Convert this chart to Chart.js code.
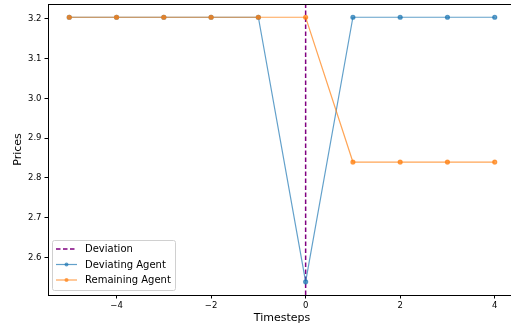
<!DOCTYPE html>
<html>
<head>
<meta charset="utf-8">
<script src="https://cdn.jsdelivr.net/npm/chart.js@4.4.0/dist/chart.umd.min.js"></script>
<style>
  html, body { margin: 0; padding: 0; background: #fff; overflow: hidden; }
  #wrap { width: 520px; height: 330px; }
</style>
</head>
<body>
<div id="wrap"><canvas id="chart"></canvas></div>
<script>
// values
const timesteps = [-5, -4, -3, -2, -1, 0, 1, 2, 3, 4];
const deviatingPrices = [3.204, 3.204, 3.204, 3.204, 3.204, 2.539, 3.204, 3.204, 3.204, 3.204];
const remainingPrices = [3.204, 3.204, 3.204, 3.204, 3.204, 3.204, 2.84, 2.84, 2.84, 2.84];
const deviationStep = 0;
const xTicks = [-4, -2, 0, 2, 4];
const yTicks = [2.6, 2.7, 2.8, 2.9, 3.0, 3.1, 3.2];
const xRange = [-5.45, 4.45];
const yRange = [2.5058, 3.2373];

const font = "'DejaVu Sans', sans-serif";
const blue = "rgba(31,119,180,0.7)";
const orange = "rgba(255,127,14,0.7)";
const purple = "#800080";

const toPoints = (ys) => timesteps.map((x, i) => ({ x, y: ys[i] }));

// frame around the axes + legend inside lower left
const framePlugin = {
  id: "frame",
  afterDraw(chart) {
    const { ctx, chartArea: a } = chart;
    ctx.save();
    ctx.strokeStyle = "#000";
    ctx.lineWidth = 1;
    ctx.strokeRect(a.left + 0.5, a.top + 0.5, a.right - a.left, a.bottom - a.top);

    // legend box
    const lx = 52, ly = 240, lw = 123, lh = 50;
    ctx.fillStyle = "rgba(255,255,255,0.8)";
    ctx.strokeStyle = "#d0d0d0";
    ctx.lineWidth = 1;
    ctx.beginPath();
    ctx.roundRect(lx + 0.5, ly + 0.5, lw, lh, 2);
    ctx.fill();
    ctx.stroke();

    ctx.font = "10px " + font;
    ctx.textBaseline = "middle";
    chart.data.datasets.forEach((ds, i) => {
      const y = ly + 9 + i * 15.5;
      ctx.strokeStyle = ds.borderColor;
      ctx.lineWidth = ds.borderWidth;
      ctx.setLineDash(ds.borderDash || []);
      ctx.beginPath();
      ctx.moveTo(lx + 4, y);
      ctx.lineTo(lx + 25, y);
      ctx.stroke();
      ctx.setLineDash([]);
      if (ds.pointRadius) {
        ctx.fillStyle = ds.borderColor;
        ctx.beginPath();
        ctx.arc(lx + 14.5, y, ds.pointRadius, 0, Math.PI * 2);
        ctx.fill();
      }
      ctx.fillStyle = "#000";
      ctx.fillText(ds.label, lx + 33, y + 0.5);
    });
    ctx.restore();
  }
};

new Chart(document.getElementById("chart"), {
  type: "line",
  data: {
    datasets: [
      {
        label: "Deviation",
        data: [{ x: deviationStep, y: yRange[0] }, { x: deviationStep, y: yRange[1] }],
        borderColor: purple,
        borderWidth: 1.5,
        borderDash: [4.5, 2.5],
        pointRadius: 0,
        order: 3
      },
      {
        label: "Deviating Agent",
        data: toPoints(deviatingPrices),
        borderColor: blue,
        backgroundColor: blue,
        borderWidth: 1.2,
        pointRadius: 2,
        pointHoverRadius: 2,
        order: 2
      },
      {
        label: "Remaining Agent",
        data: toPoints(remainingPrices),
        borderColor: orange,
        backgroundColor: orange,
        borderWidth: 1.2,
        pointRadius: 2,
        pointHoverRadius: 2,
        order: 1
      }
    ]
  },
  options: {
    responsive: true,
    maintainAspectRatio: false,
    animation: false,
    layout: { padding: { top: 4, right: 4, left: 0, bottom: 0 } },
    plugins: { legend: { display: false }, tooltip: { enabled: false } },
    scales: {
      x: {
        type: "linear",
        min: xRange[0],
        max: xRange[1],
        afterBuildTicks: (s) => { s.ticks = xTicks.map((v) => ({ value: v })); },
        afterFit: (s) => { s.height = 35; s.paddingLeft = 0; s.paddingRight = 0; },
        grid: { display: true, drawOnChartArea: false, drawTicks: true, tickLength: 3.5, color: "#000" },
        border: { display: false },
        ticks: {
          color: "#000",
          font: { family: font, size: 8.5 },
          padding: 2,
          maxRotation: 0,
          callback: (v) => String(v).replace("-", "\u2212")
        },
        title: {
          display: true,
          text: "Timesteps",
          color: "#000",
          font: { family: font, size: 11 },
          padding: { top: 0, bottom: 5 }
        }
      },
      y: {
        min: yRange[0],
        max: yRange[1],
        afterBuildTicks: (s) => { s.ticks = yTicks.map((v) => ({ value: v })); },
        afterFit: (s) => { s.width = 48; s.paddingTop = 0; s.paddingBottom = 0; },
        grid: { display: true, drawOnChartArea: false, drawTicks: true, tickLength: 3.5, color: "#000" },
        border: { display: false },
        ticks: {
          color: "#000",
          font: { family: font, size: 8.5 },
          padding: 3,
          callback: (v) => v.toFixed(1)
        },
        title: {
          display: true,
          text: "Prices",
          color: "#000",
          font: { family: font, size: 11 },
          padding: { top: 12, bottom: 0 }
        }
      }
    }
  },
  plugins: [framePlugin]
});
</script>
</body>
</html>
